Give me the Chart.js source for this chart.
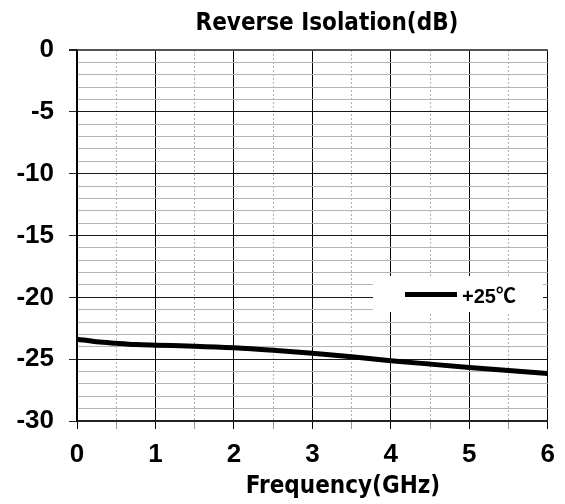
<!DOCTYPE html>
<html>
<head>
<meta charset="utf-8">
<script src="https://cdn.jsdelivr.net/npm/chart.js@4/dist/chart.umd.min.js"></script>
<style>
  html, body { margin: 0; padding: 0; background: #fff; }
  #wrap { width: 565px; height: 504px; }
</style>
</head>
<body>
<div id="wrap"><canvas id="chart" width="565" height="504"></canvas></div>
<script>
// values
const freqGHz = [0, 0.25, 0.5, 0.75, 1, 1.5, 2, 2.5, 3, 3.5, 4, 4.5, 5, 5.5, 6];
const isolation25C = [-23.38, -23.6, -23.72, -23.82, -23.87, -23.95, -24.08, -24.28, -24.52, -24.8, -25.12, -25.4, -25.67, -25.92, -26.15];
const seriesLabel = "+25℃";
const chartTitle = "Reverse Isolation(dB)";
const xTitle = "Frequency(GHz)";
const xTicks = [0, 1, 2, 3, 4, 5, 6];
const yTicks = [0, -5, -10, -15, -20, -25, -30];

const tickFont = { family: "'Liberation Sans', Arial, sans-serif", size: 26, weight: "bold" };
const titleFont = "bold 24px 'DejaVu Sans Condensed', 'DejaVu Sans', Tahoma, sans-serif";

// titles + boxed legend, drawn on the canvas at the spots they sit in the reference
const decorations = {
  id: "decorations",
  afterDraw(chart) {
    const ctx = chart.ctx;
    ctx.save();
    ctx.fillStyle = "#000";
    ctx.font = titleFont;
    ctx.textAlign = "center";
    ctx.textBaseline = "alphabetic";
    ctx.fillText(chartTitle, 327, 30);
    ctx.fillText(xTitle, 343, 493);

    // legend box
    const ds = chart.data.datasets[0];
    ctx.fillStyle = "#fff";
    ctx.fillRect(373, 276, 170, 36);
    ctx.strokeStyle = ds.borderColor;
    ctx.lineWidth = 5;
    ctx.beginPath();
    ctx.moveTo(405, 294.5);
    ctx.lineTo(457, 294.5);
    ctx.stroke();
    ctx.fillStyle = "#000";
    ctx.font = "bold 20px 'Liberation Sans', Arial, 'Noto Sans CJK SC', sans-serif";
    ctx.textAlign = "left";
    ctx.textBaseline = "middle";
    ctx.fillText(ds.label, 462, 297);
    ctx.restore();
  }
};

new Chart(document.getElementById("chart"), {
  type: "line",
  data: {
    labels: freqGHz,
    datasets: [{
      label: seriesLabel,
      data: freqGHz.map((f, i) => ({ x: f, y: isolation25C[i] })),
      borderColor: "#000",
      borderWidth: 5,
      pointRadius: 0,
      tension: 0.4,
      cubicInterpolationMode: "monotone",
      fill: false
    }]
  },
  options: {
    responsive: false,
    animation: false,
    layout: { padding: { top: 50, right: 14, left: 0, bottom: 0 } },
    plugins: {
      legend: { display: false },
      title: { display: false },
      tooltip: { enabled: false }
    },
    scales: {
      x: {
        type: "linear",
        min: 0,
        max: 6,
        afterFit: s => { s.height = 83; },
        ticks: {
          stepSize: 0.5,
          autoSkip: false,
          maxRotation: 0,
          padding: 10,
          color: "#000",
          font: tickFont,
          callback: v => xTicks.includes(v) ? String(v) : ""
        },
        grid: {
          color: c => Number.isInteger(c.tick.value) ? "#000" : "#b0b0b0",
          lineWidth: 1,
          tickLength: 8,
          tickColor: c => Number.isInteger(c.tick.value) ? "#000" : "#999"
        },
        border: {
          color: "#222",
          width: 2,
          dash: c => (c.tick && !Number.isInteger(c.tick.value)) ? [2, 2] : []
        }
      },
      y: {
        type: "linear",
        min: -30,
        max: 0,
        afterFit: s => { s.width = 77; },
        ticks: {
          stepSize: 1,
          autoSkip: false,
          padding: 15,
          color: "#000",
          font: tickFont,
          callback: v => yTicks.includes(v) ? String(v) : ""
        },
        grid: {
          color: c => {
            if (c.tick.value === 0) return "#555";
            return c.tick.value % 5 === 0 ? "#1a1a1a" : "#b4b4b4";
          },
          lineWidth: c => c.tick.value === 0 ? 2 : 1,
          tickLength: 8,
          tickColor: c => c.tick.value % 5 === 0 ? "#222" : "rgba(0,0,0,0)"
        },
        border: { color: "#000", width: 1.5 }
      }
    }
  },
  plugins: [decorations]
});
</script>
</body>
</html>
